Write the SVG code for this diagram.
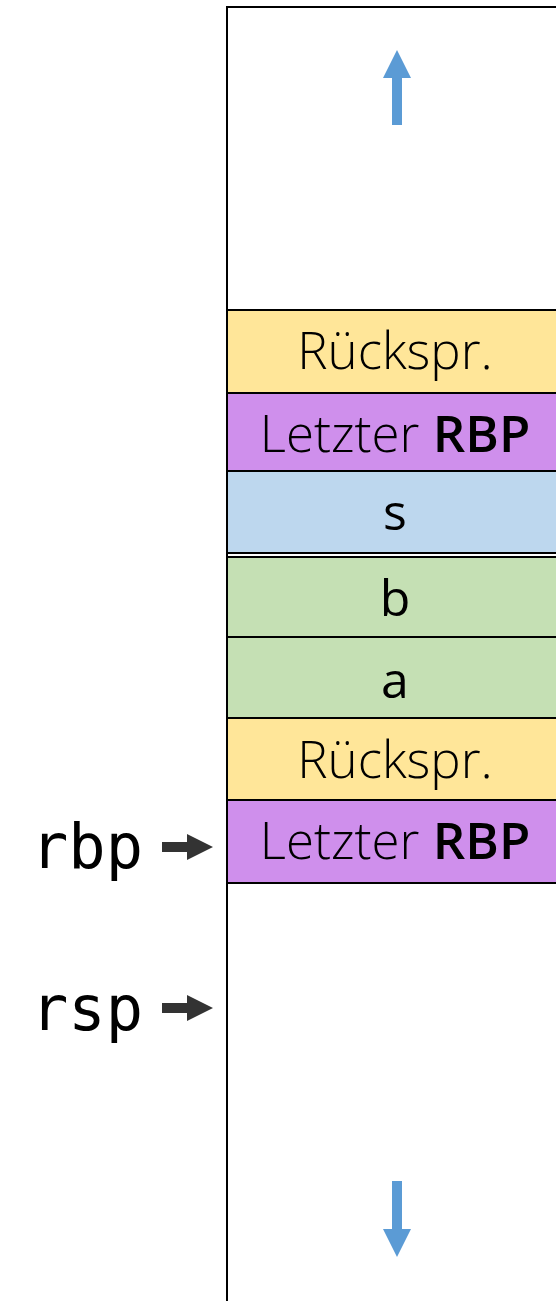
<svg xmlns="http://www.w3.org/2000/svg" width="556" height="1301" viewBox="0 0 556 1301">
  <defs>
    <style>
      .frame { fill: #ffffff; stroke: #000000; stroke-width: 2; }
      .cell { stroke: #000000; stroke-width: 2; }
      .ret { fill: #ffe699; }
      .rbp { fill: #cf8fec; }
      .loc { fill: #bdd7ee; }
      .arg { fill: #c5e0b4; }
      .lbl { font-family: "Open Sans", "Liberation Sans", sans-serif; font-size: 51px; font-weight: 300; fill: #000000; text-anchor: middle; }
      .lbl .b { font-weight: 600; }
      .var { font-family: "Open Sans", "Liberation Sans", sans-serif; font-size: 50px; font-weight: 400; fill: #000000; text-anchor: middle; }
      .reg { font-family: "DejaVu Sans Mono", "Liberation Mono", monospace; font-size: 62px; fill: #000000; }
      .ptr { fill: #333333; }
      .grow { fill: #5b9bd5; }
    </style>
  </defs>

  <rect width="556" height="1301" fill="#ffffff"/>

  <!-- stack frame outline -->
  <rect id="stack" class="frame" x="227" y="7" width="340" height="1310"/>

  <!-- growth direction hints -->
  <g id="grow-up">
    <polygon class="grow" points="397,50 411,78 402,78 402,125 392,125 392,78 383,78"/>
  </g>
  <g id="grow-down">
    <polygon class="grow" points="392,1181 402,1181 402,1229 411,1229 397,1257 383,1229 392,1229"/>
  </g>

  <!-- stack cells -->
  <g id="ret1">
    <rect class="cell ret" x="227" y="310" width="340" height="83"/>
    <text class="lbl" x="395" y="369">Rückspr.</text>
  </g>
  <g id="rbp1">
    <rect class="cell rbp" x="227" y="393" width="340" height="78"/>
    <text class="lbl" x="395" y="452">Letzter <tspan class="b">RBP</tspan></text>
  </g>
  <g id="s">
    <rect class="cell loc" x="227" y="471" width="340" height="82"/>
    <text class="var" x="395" y="530">s</text>
  </g>
  <g id="b">
    <rect class="cell arg" x="227" y="557" width="340" height="80"/>
    <text class="var" x="395" y="616">b</text>
  </g>
  <g id="a">
    <rect class="cell arg" x="227" y="637" width="340" height="81"/>
    <text class="var" x="395" y="698">a</text>
  </g>
  <g id="ret2">
    <rect class="cell ret" x="227" y="718" width="340" height="82"/>
    <text class="lbl" x="395" y="778">Rückspr.</text>
  </g>
  <g id="rbp2">
    <rect class="cell rbp" x="227" y="800" width="340" height="83"/>
    <text class="lbl" x="395" y="859">Letzter <tspan class="b">RBP</tspan></text>
  </g>

  <!-- register labels -->
  <g id="reg-rbp">
    <text class="reg" x="31" y="868">rbp</text>
  </g>
  <g id="reg-rsp">
    <text class="reg" x="31" y="1030">rsp</text>
  </g>

  <!-- register pointers -->
  <g id="connectors">
    <polygon class="ptr" points="162,842 187,842 187,834 213,847 187,860 187,852 162,852"/>
    <polygon class="ptr" points="162,1003 187,1003 187,995 213,1008 187,1021 187,1013 162,1013"/>
  </g>
</svg>
